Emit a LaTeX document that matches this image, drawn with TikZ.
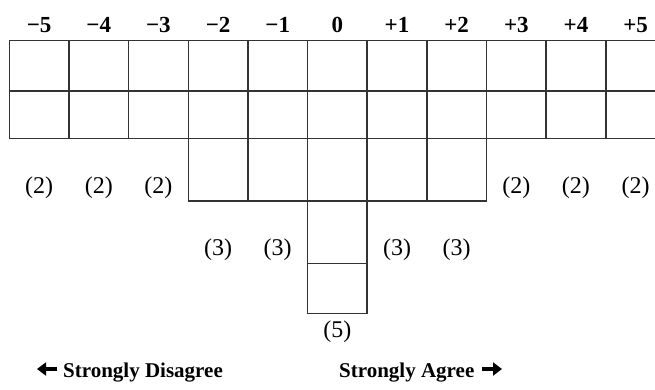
\documentclass[tikz,border=0pt]{standalone}
\usepackage{fontspec}
\setmainfont{Liberation Serif}
\usetikzlibrary{arrows.meta,positioning}
\definecolor{gridline}{HTML}{333333}

\begin{document}
\begin{tikzpicture}[x=1pt,y=-1pt,
  cell/.style={draw=gridline,line width=1.5pt},
  score/.style={font=\fontsize{23}{23}\selectfont\bfseries,anchor=base,inner sep=0pt},
  count/.style={font=\fontsize{24}{24}\selectfont,inner sep=0pt},
  pole/.style={font=\fontsize{21}{21}\selectfont\bfseries,anchor=base west,inner sep=0pt},
  polearrow/.style={-{Triangle[length=9pt,width=13pt]},line width=4pt}
]
\useasboundingbox (0,0) rectangle (655,390);
\clip (0,0) rectangle (655,390);
% scale values
\foreach \t [count=\i from 0] in {−5,−4,−3,−2,−1,0,+1,+2,+3,+4,+5}
  \node[score] (score\i) at (39.1+\i*59.65,33) {\t};
% two full rows
\foreach \i in {0,...,10}{
  \draw[cell] (9.3+\i*59.65,40.7) rectangle ++(59.65,50.3);
  \draw[cell] (9.3+\i*59.65,91) rectangle ++(59.65,47.7);
}
% third row
\foreach \i in {3,...,7}
  \draw[cell] (9.3+\i*59.65,138.7) rectangle ++(59.65,62.3);
% centre column
\draw[cell] (9.3+5*59.65,201) rectangle ++(59.65,62.7);
\draw[cell] (9.3+5*59.65,263.7) rectangle ++(59.65,50);
% counts
\foreach \i in {0,1,2,8,9,10}
  \node[count] (twos\i) at (39.1+\i*59.65,187.5) {(2)};
\foreach \i in {3,4,6,7}
  \node[count] (threes\i) at (39.1+\i*59.65,250) {(3)};
\node[count] (five) at (39.1+5*59.65,331.5) {(5)};
% poles
\node[pole] (disagree) at (63,377) {Strongly Disagree};
\node[pole] (agree) at (339,377) {Strongly Agree};
\coordinate (leftTail) at (57,369);
\coordinate (leftTip) at (37,369);
\coordinate (rightTail) at (482,369);
\coordinate (rightTip) at (502,369);
\draw[polearrow] (leftTail) -- (leftTip);
\draw[polearrow] (rightTail) -- (rightTip);
\end{tikzpicture}
\end{document}
